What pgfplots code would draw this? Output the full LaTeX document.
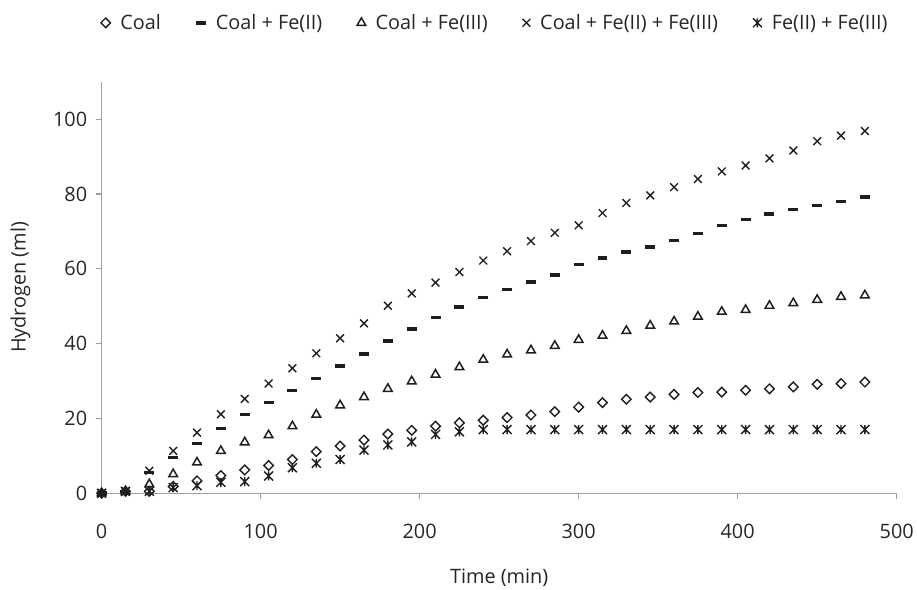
\documentclass[border=0pt]{standalone}
\usepackage{pgfplots}
\pgfplotsset{compat=1.18}
\usepackage{pgfplotstable}
\usepackage{fontspec}
\setmainfont{Open Sans}
\definecolor{axgray}{HTML}{A0A0A0}
\definecolor{txt}{HTML}{262626}
\definecolor{mk}{HTML}{1E1E1E}
\pgfdeclareplotmark{xbar}{%
  \pgfpathmoveto{\pgfqpoint{-\pgfplotmarksize}{-\pgfplotmarksize}}%
  \pgfpathlineto{\pgfqpoint{\pgfplotmarksize}{\pgfplotmarksize}}%
  \pgfpathmoveto{\pgfqpoint{-\pgfplotmarksize}{\pgfplotmarksize}}%
  \pgfpathlineto{\pgfqpoint{\pgfplotmarksize}{-\pgfplotmarksize}}%
  \pgfpathmoveto{\pgfqpoint{0pt}{-\pgfplotmarksize}}%
  \pgfpathlineto{\pgfqpoint{0pt}{\pgfplotmarksize}}%
  \pgfusepathqstroke}
\pgfplotstableread{
t coal fe2 fe3 all ironly
0 0 0 0 0 0
15 0.5 0.5 0.5 0.5 0.5
30 0.5 5.5 2.4 6.0 0.5
45 1.8 9.5 5.1 11.3 1.5
60 3.3 13.3 8.2 16.2 2.0
75 4.7 17.3 11.3 21.1 2.9
90 6.2 21.1 13.6 25.2 3.1
105 7.4 24.2 15.5 29.3 4.6
120 9.0 27.5 17.9 33.4 6.8
135 11.1 30.7 21.0 37.4 8.0
150 12.6 34.0 23.5 41.4 9.0
165 14.2 37.2 25.7 45.4 11.5
180 15.8 40.7 27.9 50.1 12.9
195 16.8 43.9 29.9 53.4 13.7
210 17.9 47.0 31.7 56.3 15.7
225 18.8 49.8 33.7 59.1 16.4
240 19.5 52.3 35.7 62.2 17.0
255 20.2 54.5 37.1 64.7 17.0
270 20.9 56.5 38.2 67.4 17.0
285 21.8 58.3 39.4 69.6 17.0
300 23.0 61.2 41.0 71.6 17.0
315 24.2 62.9 42.1 74.9 17.0
330 25.1 64.5 43.4 77.6 17.0
345 25.7 65.8 44.8 79.6 17.0
360 26.4 67.6 45.9 81.8 17.0
375 26.9 69.5 47.2 84.0 17.0
390 27.0 71.5 48.5 86.0 17.0
405 27.5 73.1 49.0 87.6 17.0
420 27.9 74.6 50.1 89.5 17.0
435 28.4 75.8 50.8 91.6 17.0
450 29.1 76.9 51.7 94.1 17.0
465 29.3 78.0 52.5 95.6 17.0
480 29.7 79.2 52.9 96.8 17.0
}\data
\begin{document}
\begin{tikzpicture}
\begin{axis}[
  scale only axis,
  width=798bp, height=413bp,
  xmin=0, xmax=500, ymin=0, ymax=110,
  xtick={0,100,...,500}, ytick={0,20,...,100},
  axis x line*=bottom, axis y line*=left,
  axis line style={axgray, line width=1.2pt, -},
  tick style={axgray, line width=1.2pt},
  tick align=outside, major tick length=6bp,
  every tick label/.append style={font=\fontsize{20}{22}\selectfont, text=txt},
  /pgf/number format/assume math mode=true,
  yticklabel style={xshift=-5bp},
  xticklabel style={yshift=-22bp},
  xlabel={Time (min)}, ylabel={Hydrogen (ml)},
  label style={font=\fontsize{20}{22}\selectfont, text=txt},
  xlabel style={yshift=-23bp},
  ylabel style={yshift=16bp},
  clip=false,
  legend columns=5,
  legend style={draw=none, fill=none, at={(rel axis cs:0.495,1.143)}, anchor=center,
    font=\fontsize{20}{22}\selectfont, text=txt,
    /tikz/every odd column/.append style={column sep=8bp},
    /tikz/every even column/.append style={column sep=33bp}},
  legend image code/.code={\draw[#1] plot coordinates {(0bp,0bp)};},
  legend cell align=left,
]
\addplot[only marks, mark=square, mark size=3.4bp, mark options={mk, rotate=45, line width=1.4pt, fill=none}] table[x=t,y=coal]{\data};
\addlegendentry{Coal}
\addplot[only marks, mark=-, mark size=5bp, mark options={mk, line width=3.4pt}] table[x=t,y=fe2]{\data};
\addlegendentry{Coal + Fe(II)}
\addplot[only marks, mark=triangle, mark size=5bp, mark options={mk, line width=1.5pt, fill=none}] table[x=t,y=fe3]{\data};
\addlegendentry{Coal + Fe(III)}
\addplot[only marks, mark=x, mark size=5.5bp, mark options={mk, line width=1.4pt}] table[x=t,y=all]{\data};
\addlegendentry{Coal + Fe(II) + Fe(III)}
\addplot[only marks, mark=xbar, mark size=4.5bp, mark options={mk, line width=1.4pt}] table[x=t,y=ironly]{\data};
\addlegendentry{Fe(II) + Fe(III)}
\end{axis}
\path (current axis.south west) ++(-102bp,-89bp) rectangle ++(917bp,584bp);
\end{tikzpicture}
\end{document}
